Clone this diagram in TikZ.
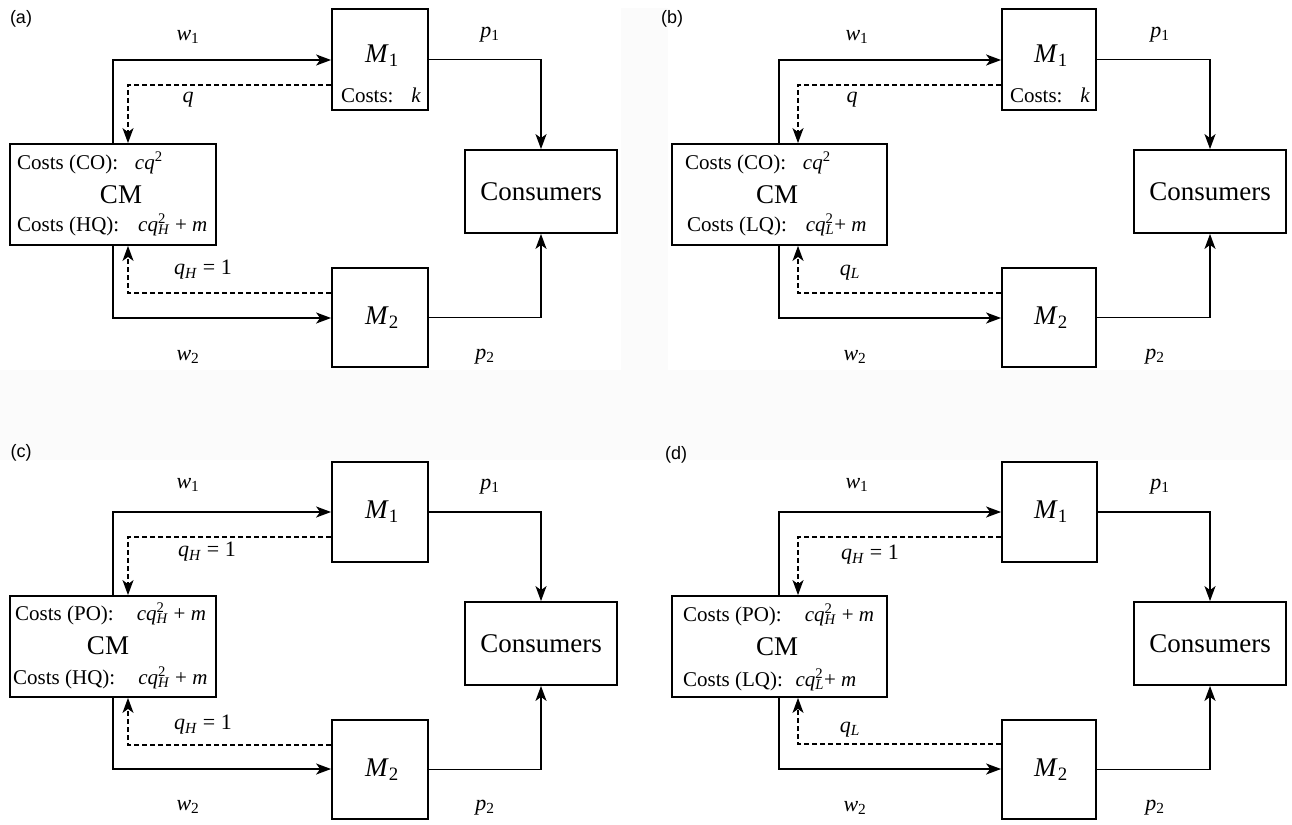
\documentclass[tikz,border=0pt]{standalone}
\usepackage{fontspec}
\setmainfont{Liberation Serif}
\newfontfamily\labfont{Liberation Sans}
\usetikzlibrary{arrows.meta}
\newcommand\mysubsup[2]{\rlap{\textsuperscript{#2}}\textsubscript{#1}}
\newcommand\qH{\textit{q}\textsubscript{\textit{H}}\ =\ 1}
\newcommand\qL{\textit{q}\textsubscript{\textit{L}}}
\newcommand\cqH{\textit{cq}\mysubsup{\textit{H}}{2}\ +\ \textit{m}}
\newcommand\cqL{\textit{cq}\mysubsup{\textit{L}}{2}+ \textit{m}}
\tikzset{
  bx/.style={draw, line width=1.8pt, inner sep=0pt},
  arr/.style={line width=1.8pt, -{Stealth[length=15pt,width=11pt,inset=4pt]}},
  darr/.style={line width=1.6pt, dash pattern=on 5pt off 3pt, -{Stealth[length=15pt,width=11pt,inset=4pt]}},
  lbl/.style={font=\fontsize{22}{24}\selectfont, inner sep=0pt},
  big/.style={font=\fontsize{27}{30}\selectfont, inner sep=0pt},
  cost/.style={font=\fontsize{21}{24}\selectfont, inner sep=0pt, anchor=west},
  tag/.style={font=\labfont\fontsize{18}{20}\selectfont, inner sep=0pt},
}
\begin{document}
\begin{tikzpicture}[x=1pt,y=-1pt]
\useasboundingbox (0,0) rectangle (1292,824);
\fill[gray!3] (0,370) rectangle (1292,460);
\fill[gray!3] (621,8) rectangle (668,370);

% ---------------- panel (a)
\node[tag] (tagA) at (21,19) {(a)};
\node[bx, minimum width=206pt, minimum height=101pt] (cmA) at (113,194.5) {};
\node[cost] (cmA1) at (17,163) {Costs (CO):\hspace{.8em}\textit{cq}\textsuperscript{2}};
\node[big] (cmA2) at (121,195) {CM};
\node[cost] (cmA3) at (17,225) {Costs (HQ):\hspace{.9em}\cqH};
\node[bx, minimum width=96pt, minimum height=101pt] (m1A) at (380,59.5) {};
\node[big] (m1At) at (382,56) {\textit{M}\textsubscript{1}};
\node[cost, anchor=center] (m1Ac) at (381,95) {Costs:\hspace{.85em}\textit{k}};
\node[bx, minimum width=96pt, minimum height=99pt] (m2A) at (380,317.5) {};
\node[big] (m2At) at (382,318) {\textit{M}\textsubscript{2}};
\node[bx, minimum width=152pt, minimum height=83pt] (consA) at (541,191.5) {};
\node[big] (consAt) at (541,192) {Consumers};
\coordinate (saA) at (113,60);
\coordinate (daA) at (128,85);
\coordinate (dbA) at (128,293);
\coordinate (sbA) at (113,318);
\draw[arr] (cmA.north -| saA) |- (m1A.west |- saA);
\draw[darr] (m1A.west |- daA) -| (cmA.north -| daA);
\draw[darr] (m2A.west |- dbA) -| (cmA.south -| dbA);
\draw[arr] (cmA.south -| sbA) |- (m2A.west |- sbA);
\draw[arr] (m1A.east) -| (consA.north);
\draw[arr] (m2A.east) -| (consA.south);
\node[lbl] (w1A) at (188,37) {\textit{w}\textsubscript{1}};
\node[lbl] (qA) at (188,100) {\textit{q}};
\node[lbl] (qhA) at (203,270) {\qH};
\node[lbl] (w2A) at (188,357) {\textit{w}\textsubscript{2}};
\node[lbl] (p1A) at (490,35) {\textit{p}\textsubscript{1}};
\node[lbl] (p2A) at (485,357) {\textit{p}\textsubscript{2}};

% ---------------- panel (b)
\node[tag] (tagB) at (672,19) {(b)};
\node[bx, minimum width=215pt, minimum height=101pt] (cmB) at (779.5,194.5) {};
\node[cost] (cmB1) at (685,163) {Costs (CO):\hspace{.8em}\textit{cq}\textsuperscript{2}};
\node[big] (cmB2) at (777,195) {CM};
\node[cost] (cmB3) at (687,225) {Costs (LQ):\hspace{.9em}\cqL};
\node[bx, minimum width=94pt, minimum height=101pt] (m1B) at (1049,59.5) {};
\node[big] (m1Bt) at (1051,56) {\textit{M}\textsubscript{1}};
\node[cost, anchor=center] (m1Bc) at (1050,95) {Costs:\hspace{.85em}\textit{k}};
\node[bx, minimum width=94pt, minimum height=99pt] (m2B) at (1049,317.5) {};
\node[big] (m2Bt) at (1051,318) {\textit{M}\textsubscript{2}};
\node[bx, minimum width=152pt, minimum height=83pt] (consB) at (1210,191.5) {};
\node[big] (consBt) at (1210,192) {Consumers};
\coordinate (saB) at (779,60);
\coordinate (daB) at (798,85);
\coordinate (dbB) at (798,293);
\coordinate (sbB) at (779,318);
\draw[arr] (cmB.north -| saB) |- (m1B.west |- saB);
\draw[darr] (m1B.west |- daB) -| (cmB.north -| daB);
\draw[darr] (m2B.west |- dbB) -| (cmB.south -| dbB);
\draw[arr] (cmB.south -| sbB) |- (m2B.west |- sbB);
\draw[arr] (m1B.east) -| (consB.north);
\draw[arr] (m2B.east) -| (consB.south);
\node[lbl] (w1B) at (857,37) {\textit{w}\textsubscript{1}};
\node[lbl] (qB) at (852,100) {\textit{q}};
\node[lbl] (qlB) at (850,273) {\qL};
\node[lbl] (w2B) at (855,357) {\textit{w}\textsubscript{2}};
\node[lbl] (p1B) at (1160,35) {\textit{p}\textsubscript{1}};
\node[lbl] (p2B) at (1155,357) {\textit{p}\textsubscript{2}};

% ---------------- panel (c)
\node[tag] (tagC) at (21,453) {(c)};
\node[bx, minimum width=206pt, minimum height=101pt] (cmC) at (113,646.5) {};
\node[cost] (cmC1) at (15,614) {Costs (PO):\hspace{1.1em}\cqH};
\node[big] (cmC2) at (108,646) {CM};
\node[cost] (cmC3) at (13,678) {Costs (HQ):\hspace{1.1em}\cqH};
\node[bx, minimum width=96pt, minimum height=100pt] (m1C) at (380,512) {};
\node[big] (m1Ct) at (382,512) {\textit{M}\textsubscript{1}};
\node[bx, minimum width=96pt, minimum height=99pt] (m2C) at (380,769.5) {};
\node[big] (m2Ct) at (382,770) {\textit{M}\textsubscript{2}};
\node[bx, minimum width=152pt, minimum height=83pt] (consC) at (541,643.5) {};
\node[big] (consCt) at (541,644) {Consumers};
\coordinate (saC) at (113,512);
\coordinate (daC) at (128,537);
\coordinate (dbC) at (128,745);
\coordinate (sbC) at (113,769);
\draw[arr] (cmC.north -| saC) |- (m1C.west |- saC);
\draw[darr] (m1C.west |- daC) -| (cmC.north -| daC);
\draw[darr] (m2C.west |- dbC) -| (cmC.south -| dbC);
\draw[arr] (cmC.south -| sbC) |- (m2C.west |- sbC);
\draw[arr] (m1C.east) -| (consC.north);
\draw[arr] (m2C.east) -| (consC.south);
\node[lbl] (w1C) at (188,485) {\textit{w}\textsubscript{1}};
\node[lbl] (qhC1) at (207,552) {\qH};
\node[lbl] (qhC2) at (203,725) {\qH};
\node[lbl] (w2C) at (188,807) {\textit{w}\textsubscript{2}};
\node[lbl] (p1C) at (490,487) {\textit{p}\textsubscript{1}};
\node[lbl] (p2C) at (485,808) {\textit{p}\textsubscript{2}};

% ---------------- panel (d)
\node[tag] (tagD) at (676,455) {(d)};
\node[bx, minimum width=215pt, minimum height=101pt] (cmD) at (779.5,646.5) {};
\node[cost] (cmD1) at (683,615) {Costs (PO):\hspace{1.1em}\cqH};
\node[big] (cmD2) at (777,647) {CM};
\node[cost] (cmD3) at (683,680) {Costs (LQ):\hspace{.6em}\cqL};
\node[bx, minimum width=95pt, minimum height=100pt] (m1D) at (1049.5,512) {};
\node[big] (m1Dt) at (1051,512) {\textit{M}\textsubscript{1}};
\node[bx, minimum width=94pt, minimum height=99pt] (m2D) at (1049,769.5) {};
\node[big] (m2Dt) at (1051,770) {\textit{M}\textsubscript{2}};
\node[bx, minimum width=152pt, minimum height=83pt] (consD) at (1210,643.5) {};
\node[big] (consDt) at (1210,644) {Consumers};
\coordinate (saD) at (779,512);
\coordinate (daD) at (798,537);
\coordinate (dbD) at (798,744);
\coordinate (sbD) at (779,769);
\draw[arr] (cmD.north -| saD) |- (m1D.west |- saD);
\draw[darr] (m1D.west |- daD) -| (cmD.north -| daD);
\draw[darr] (m2D.west |- dbD) -| (cmD.south -| dbD);
\draw[arr] (cmD.south -| sbD) |- (m2D.west |- sbD);
\draw[arr] (m1D.east) -| (consD.north);
\draw[arr] (m2D.east) -| (consD.south);
\node[lbl] (w1D) at (857,485) {\textit{w}\textsubscript{1}};
\node[lbl] (qhD) at (870,555) {\qH};
\node[lbl] (qlD) at (850,730) {\qL};
\node[lbl] (w2D) at (855,808) {\textit{w}\textsubscript{2}};
\node[lbl] (p1D) at (1160,487) {\textit{p}\textsubscript{1}};
\node[lbl] (p2D) at (1155,808) {\textit{p}\textsubscript{2}};
\end{tikzpicture}
\end{document}
